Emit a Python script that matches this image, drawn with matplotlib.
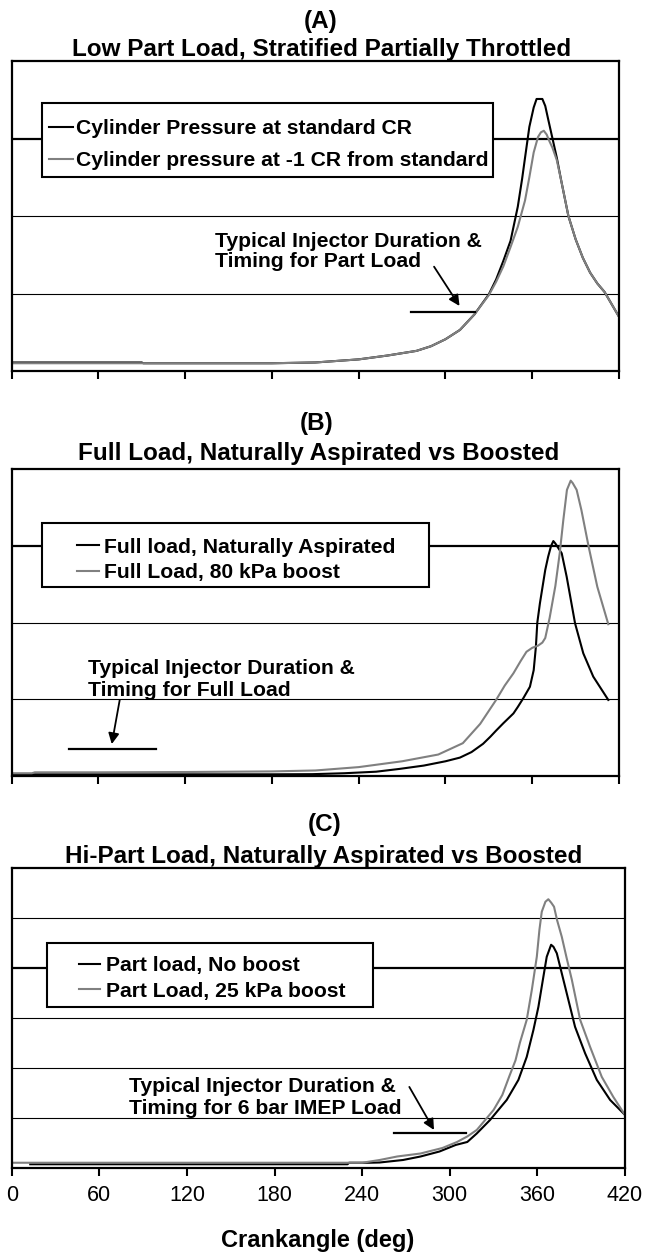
import matplotlib
matplotlib.use("Agg")
import matplotlib.pyplot as plt
from matplotlib.patches import Rectangle

plt.rcParams["font.family"] = ["Liberation Sans", "DejaVu Sans"]

# ---------------- data ----------------
# (A) low part load, stratified partially throttled
a_std_deg = [0, 90, 91, 120, 150, 180, 210, 240, 260, 280, 290, 300, 310, 320, 330,
             335, 340, 345, 350, 353, 355, 358, 361, 363, 367, 369, 371, 374, 377,
             380, 385, 390, 395, 400, 405, 410, 415, 420]
a_std_p = [1.1, 1.1, 1.0, 1.0, 1.0, 1.0, 1.1, 1.5, 2.0, 2.6, 3.2, 4.1, 5.3, 7.3, 9.9,
           11.8, 14.2, 16.8, 21.2, 24.8, 27.5, 31.5, 34.0, 35.1, 35.1, 34.2, 32.5, 30.0, 27.5,
           24.6, 20.0, 17.0, 14.6, 12.7, 11.3, 10.2, 8.6, 7.0]
a_low_deg = [0, 30, 60, 90, 120, 150, 180, 210, 240, 260, 280, 290, 300, 310, 320, 330,
             335, 340, 345, 350, 355, 358, 361, 364, 366, 368, 370, 372, 374, 377,
             380, 385, 390, 395, 400, 405, 410, 415, 420]
a_low_p = [1.0, 1.0, 1.0, 1.0, 1.0, 1.0, 1.0, 1.1, 1.5, 2.0, 2.6, 3.2, 4.1, 5.3, 7.3, 9.8,
           11.5, 13.5, 16.0, 18.6, 22.0, 25.0, 28.2, 30.2, 30.8, 31.0, 30.5, 29.6, 28.8, 27.2,
           24.6, 20.0, 17.0, 14.6, 12.7, 11.3, 10.2, 8.6, 7.0]

# (B) full load, naturally aspirated vs 80 kPa boost
b_na_deg = [0, 60, 120, 180, 208, 230, 252, 268, 285, 300, 310, 318, 326, 331, 335, 340,
            347, 350, 354, 358.4, 361, 362.5, 363.5, 365.3, 369, 371, 373, 374.6, 376,
            380.4, 383.8, 389.6, 395.3, 402.2, 412.6]
b_na_p = [0.55, 0.55, 0.55, 0.55, 0.6, 0.9, 1.4, 2.3, 3.4, 4.8, 6.0, 7.8, 10.5, 12.8, 14.8, 17.2,
          20.4, 22.5, 25.5, 29.1, 34.5, 42.0, 50.0, 56.3, 67.2, 71.5, 75.0, 76.6, 75.8,
          72.6, 65.0, 49.8, 40.0, 32.4, 24.8]
b_boost_deg = [0, 14, 16, 60, 120, 180, 210, 240, 270, 295, 312, 324, 335, 341, 347, 352,
               356, 360, 364, 367, 369, 372, 376, 379, 381.5, 384, 386.6, 388, 390.7, 394,
               399, 405, 412.6]
b_boost_p = [0.9, 0.9, 1.2, 1.2, 1.3, 1.5, 1.8, 2.9, 4.8, 7.0, 10.7, 17.0, 24.8, 29.5, 33.5,
             37.5, 40.5, 41.8, 42.5, 43.5, 45.0, 51.5, 62.0, 72.6, 83.5, 93.3, 96.3, 95.5,
             93.3, 86.7, 74.8, 61.7, 49.5]

# (C) high part load, no boost vs 25 kPa boost
c_nb_deg = [12.7, 60, 120, 180, 230, 231, 245, 252, 268, 280, 293, 304, 312, 318.5,
            327.6, 336.7, 339, 347, 352.7, 357.3, 360.7, 364.1, 366.4, 369.4, 371,
            373.3, 379, 385.8, 392.7, 400.7, 409.8, 420]
c_nb_p = [0.75, 0.75, 0.75, 0.75, 0.75, 1.05, 1.05, 1.1, 1.6, 2.3, 3.3, 4.6, 5.2, 6.9,
          9.6, 12.8, 13.6, 17.6, 22.2, 27.6, 32.2, 38.2, 42.2, 44.6, 44.2,
          42.9, 36.2, 28.2, 22.9, 17.6, 13.6, 10.6]
c_boost_deg = [0, 60, 120, 180, 240, 252, 264, 280, 295, 305, 312, 318.5, 324, 330, 336,
               341, 345, 348, 352.7, 356.2, 359.6, 361.4, 363, 365.5, 367.5, 369.5, 371.4,
               373.5, 376.7, 380, 383.6, 389.3, 396.1, 404.1, 412, 420]
c_boost_p = [1.05, 1.05, 1.05, 1.05, 1.05, 1.6, 2.3, 2.9, 4.0, 5.2, 6.3, 7.6, 9.5, 11.6, 14.6,
             18.5, 21.5, 25.0, 29.6, 35.6, 42.2, 47.6, 51.2, 53.2, 53.7, 53.0, 52.2,
             49.5, 46.2, 42.0, 37.6, 29.6, 24.2, 18.2, 14.2, 10.6]

x_ticks = [0, 60, 120, 180, 240, 300, 360, 420]

# ---------------- layout helpers (pixel based) ----------------
W, H = 646, 1254
fig = plt.figure(figsize=(W / 100, H / 100), dpi=100)


def add_axes_px(left, right, top, bottom):
    return fig.add_axes([left / W, 1 - bottom / H, (right - left) / W, (bottom - top) / H])


def frac(rect, x, y):
    left, right, top, bottom = rect
    return (x - left) / (right - left), (bottom - y) / (bottom - top)


BLACK = "#000000"
GREY = "#808080"
LW = 1.5
TXT = 15.2

panels = [
    dict(rect=(11.7, 619, 61, 371), ylim=40, step=10, thick=30,
         series=[(a_std_deg, a_std_p, BLACK, "Cylinder Pressure at standard CR"),
                 (a_low_deg, a_low_p, GREY, "Cylinder pressure at -1 CR from standard")],
         letter="(A)", title="Low Part Load, Stratified Partially Throttled",
         tpos=((321, 21.7), (321.5, 49.3)),
         box=(42, 493.5, 103.3, 176.7), hstart=49, hlen=24, tstart=76, rows=(126.7, 162.7),
         note="Typical Injector Duration &\nTiming for Part Load",
         note_xy=(140.5, 15.46), note_ls=1.08,
         arrow=((292.1, 13.46), (309.7, 8.39)), bar=(276.2, 320.4, 7.57)),
    dict(rect=(11.7, 619, 469.3, 776), ylim=100, step=25, thick=75,
         series=[(b_na_deg, b_na_p, BLACK, "Full load, Naturally Aspirated"),
                 (b_boost_deg, b_boost_p, GREY, "Full Load, 80 kPa boost")],
         letter="(B)", title="Full Load, Naturally Aspirated vs Boosted",
         tpos=((316.6, 423.3), (318.3, 453.3)),
         box=(42, 429, 523.3, 586.7), hstart=77, hlen=22, tstart=104, rows=(545, 575),
         note="Typical Injector Duration &\nTiming for Full Load",
         note_xy=(53.1, 31.6), note_ls=1.2,
         arrow=((74.7, 24.8), (69.2, 10.4)), bar=(39.6, 99.6, 8.8)),
    dict(rect=(11.7, 625, 867.7, 1168), ylim=60, step=10, thick=40,
         series=[(c_nb_deg, c_nb_p, BLACK, "Part load, No boost"),
                 (c_boost_deg, c_boost_p, GREY, "Part Load, 25 kPa boost")],
         letter="(C)", title="Hi-Part Load, Naturally Aspirated vs Boosted",
         tpos=((324.8, 825), (323.4, 856.7)),
         box=(47.5, 373.5, 943.3, 1007.3), hstart=78.9, hlen=21.4, tstart=105.6,
         rows=(963.3, 993.3),
         note="Typical Injector Duration &\nTiming for 6 bar IMEP Load",
         note_xy=(80.1, 14.1), note_ls=1.2,
         arrow=((272.3, 16.2), (289.2, 7.6)), bar=(262.1, 311.0, 7.05)),
]

for i, p in enumerate(panels):
    rect = p["rect"]
    ax = add_axes_px(*rect)
    ax.set_xlim(0, 420)
    ax.set_ylim(0, p["ylim"])

    # horizontal grid
    ax.set_yticks(list(range(p["step"], p["ylim"], p["step"])))
    ax.tick_params(axis="y", length=0, labelleft=False)
    ax.grid(axis="y", color="black", linewidth=0.8)
    for val, gl in zip(ax.get_yticks(), ax.get_ygridlines()):
        if abs(val - p["thick"]) < 1e-6:
            gl.set_linewidth(1.6)

    ax.set_xticks(x_ticks)
    ax.tick_params(axis="x", direction="out", length=5.5, width=1.5,
                   labelsize=15.5, pad=7, labelbottom=(i == 2))
    for s in ax.spines.values():
        s.set_linewidth(1.6)

    handles = []
    for deg, pr, col, lab in p["series"]:
        ln, = ax.plot(deg, pr, color=col, lw=LW, label=lab, solid_joinstyle="round")
        handles.append(ln)

    # legend frame and entries
    bx0, bx1, by0, by1 = p["box"]
    fx0, fy1 = frac(rect, bx0, by0)
    fx1, fy0 = frac(rect, bx1, by1)
    ax.add_patch(Rectangle((fx0, fy0), fx1 - fx0, fy1 - fy0, transform=ax.transAxes,
                           facecolor="white", edgecolor="black", lw=1.5, zorder=4))
    r0, r1 = p["rows"]
    hx, hy = frac(rect, p["hstart"], (r0 + r1) / 2)
    pitch = r1 - r0
    leg = ax.legend(handles=handles, loc="center left", bbox_to_anchor=(hx, hy),
                    frameon=False, borderpad=0, borderaxespad=0,
                    handlelength=p["hlen"] / (TXT * 100 / 72),
                    handletextpad=(p["tstart"] - p["hstart"] - p["hlen"]) / (TXT * 100 / 72),
                    labelspacing=(pitch - 23.5) / (TXT * 100 / 72),
                    prop=dict(size=TXT, weight="bold"))
    leg.set_zorder(5)

    # injector timing note
    ax.text(p["note_xy"][0], p["note_xy"][1], p["note"], fontsize=TXT, fontweight="bold",
            ha="left", va="center", linespacing=p["note_ls"], zorder=6)
    (sx, sy), (tx, ty) = p["arrow"]
    ax.annotate("", xy=(tx, ty), xytext=(sx, sy),
                arrowprops=dict(arrowstyle="-|>", color="black", lw=1.3,
                                mutation_scale=16, shrinkA=0, shrinkB=0))
    x0, x1, yb = p["bar"]
    ax.plot([x0, x1], [yb, yb], color="black", lw=1.6)

    # two-line heading
    (lx, ly), (tx2, ty2) = p["tpos"]
    fig.text(lx / W, 1 - ly / H, p["letter"], ha="center", va="center",
             fontsize=17.5, fontweight="bold")
    fig.text(tx2 / W, 1 - ty2 / H, p["title"], ha="center", va="center",
             fontsize=17.5, fontweight="bold")

    if i == 2:
        fig.text(318 / W, 1 - 1240 / H, "Crankangle (deg)", ha="center", va="center",
                 fontsize=17, fontweight="bold")

fig.savefig("out.png", dpi=100, facecolor="white")
